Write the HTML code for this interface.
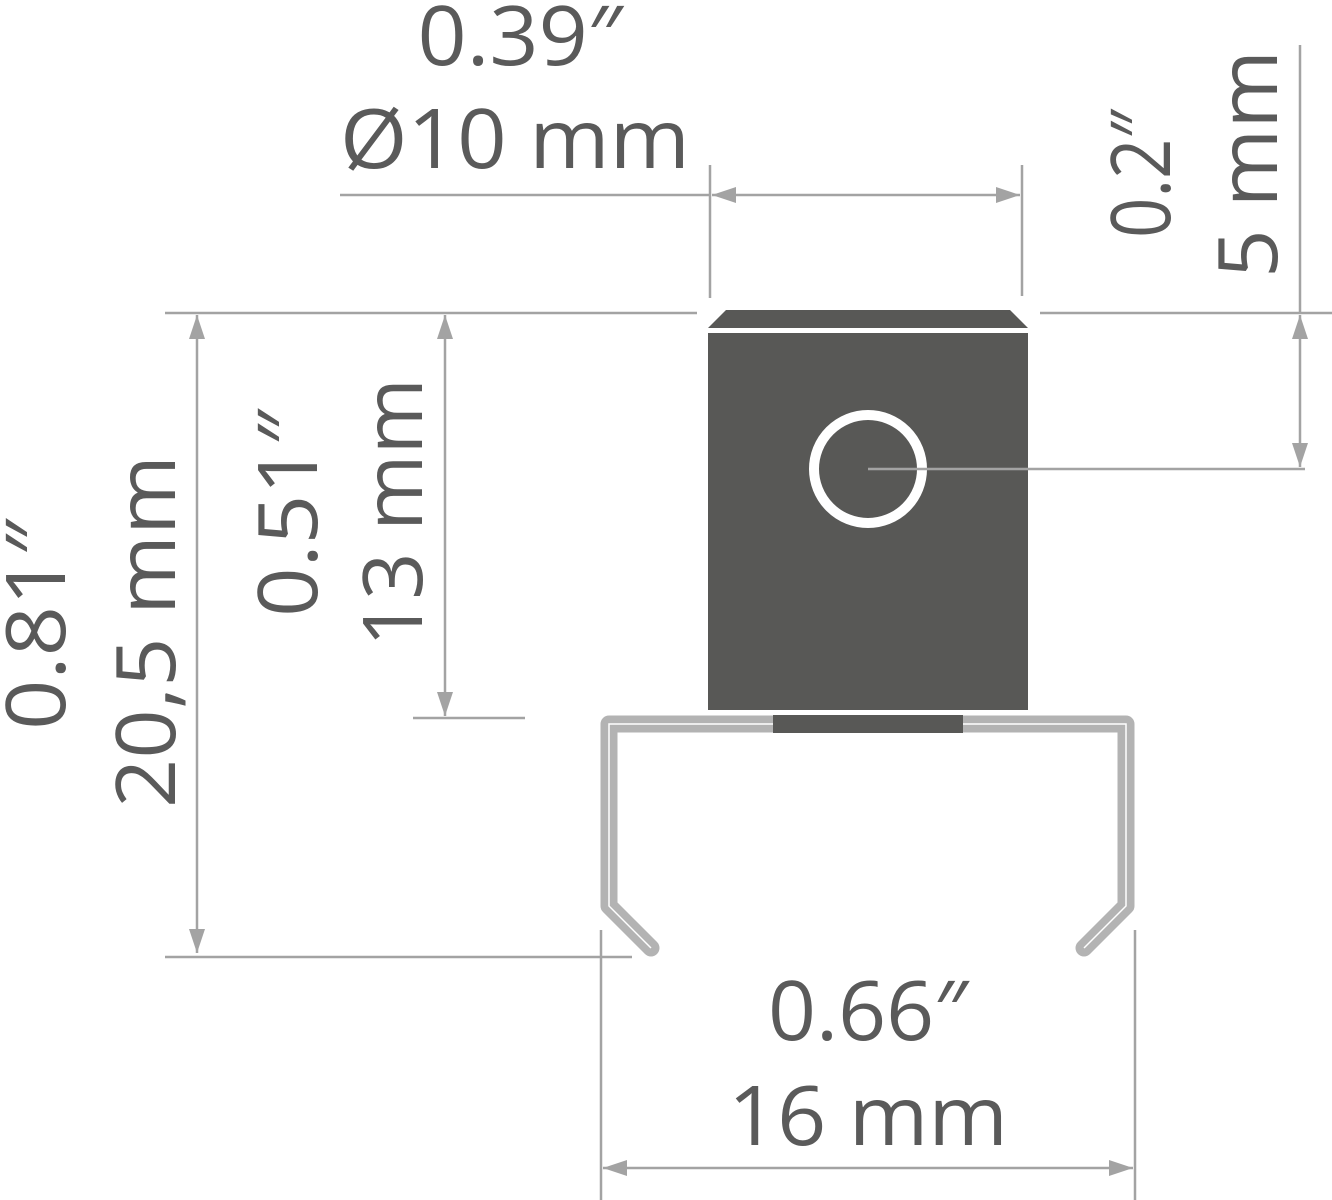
<!DOCTYPE html>
<html><head><meta charset="utf-8"><style>html,body{margin:0;padding:0;background:#fff}svg{display:block}</style></head>
<body>
<svg width="1332" height="1200" viewBox="0 0 1332 1200" xmlns="http://www.w3.org/2000/svg">
<defs>
<marker id="a" viewBox="0 0 24 16" refX="24" refY="8" markerWidth="24" markerHeight="16" markerUnits="userSpaceOnUse" orient="auto-start-reverse"><path d="M0,0 L24,8 L0,16 Z" fill="#a3a3a3"/></marker>
</defs>
<g stroke="#a3a3a3" stroke-width="2.5" fill="none">
<line x1="340" y1="195" x2="710" y2="195"/>
<line x1="712" y1="195" x2="1020" y2="195" marker-start="url(#a)" marker-end="url(#a)"/>
<line x1="710" y1="165" x2="710" y2="298"/>
<line x1="1022" y1="165" x2="1022" y2="296"/>
<line x1="165" y1="313" x2="697" y2="313"/>
<line x1="1040" y1="313" x2="1332" y2="313"/>
<line x1="197" y1="315" x2="197" y2="953" marker-start="url(#a)" marker-end="url(#a)"/>
<line x1="445" y1="315" x2="445" y2="716" marker-start="url(#a)" marker-end="url(#a)"/>
<line x1="413" y1="718" x2="525" y2="718"/>
<line x1="165" y1="957" x2="632" y2="957"/>
<line x1="1300" y1="45" x2="1300" y2="313"/>
<line x1="1300" y1="315" x2="1300" y2="467" marker-start="url(#a)" marker-end="url(#a)"/>
<line x1="868" y1="469" x2="1305" y2="469"/>
<line x1="601" y1="930" x2="601" y2="1200"/>
<line x1="1135" y1="930" x2="1135" y2="1200"/>
<line x1="603" y1="1168" x2="1133" y2="1168" marker-start="url(#a)" marker-end="url(#a)"/>
</g>
<polygon points="726,310 1010,310 1028,328 708,328" fill="#585856"/>
<rect x="708" y="333" width="320" height="377" fill="#585856"/>
<circle cx="868" cy="469" r="54" fill="none" stroke="#fff" stroke-width="10"/>
<line x1="868" y1="469" x2="1028" y2="469" stroke="#a3a3a3" stroke-width="2.5"/>
<polyline points="651,948 609,906 609,724 1126,724 1126,906 1084,948" fill="none" stroke="#b3b3b3" stroke-width="17" stroke-linejoin="round" stroke-linecap="round"/>
<polyline points="651,948 609,906 609,724 1126,724 1126,906 1084,948" fill="none" stroke="#fff" stroke-width="1.5"/>
<rect x="773" y="715" width="190" height="18" fill="#585856"/>
<g fill="#5a5a5a" font-family="'Open Sans','Liberation Sans',sans-serif" font-size="82">
<text x="520" y="65" text-anchor="middle" textLength="205" lengthAdjust="spacingAndGlyphs">0.39″</text>
<text x="340" y="168" textLength="350" lengthAdjust="spacingAndGlyphs">Ø10 mm</text>
<text x="868" y="1040" text-anchor="middle" textLength="200" lengthAdjust="spacingAndGlyphs">0.66″</text>
<text x="728" y="1145" textLength="280" lengthAdjust="spacingAndGlyphs">16 mm</text>
<text transform="translate(65,730) rotate(-90)" textLength="210" lengthAdjust="spacingAndGlyphs">0.81″</text>
<text transform="translate(175,808) rotate(-90)" textLength="353" lengthAdjust="spacingAndGlyphs">20,5 mm</text>
<text transform="translate(317,617) rotate(-90)" textLength="207" lengthAdjust="spacingAndGlyphs">0.51″</text>
<text transform="translate(422,647) rotate(-90)" textLength="269" lengthAdjust="spacingAndGlyphs">13 mm</text>
<text transform="translate(1170,238) rotate(-90)" textLength="128" lengthAdjust="spacingAndGlyphs">0.2″</text>
<text transform="translate(1277,278) rotate(-90)" textLength="228" lengthAdjust="spacingAndGlyphs">5 mm</text>
</g>
</svg>
</body></html>
